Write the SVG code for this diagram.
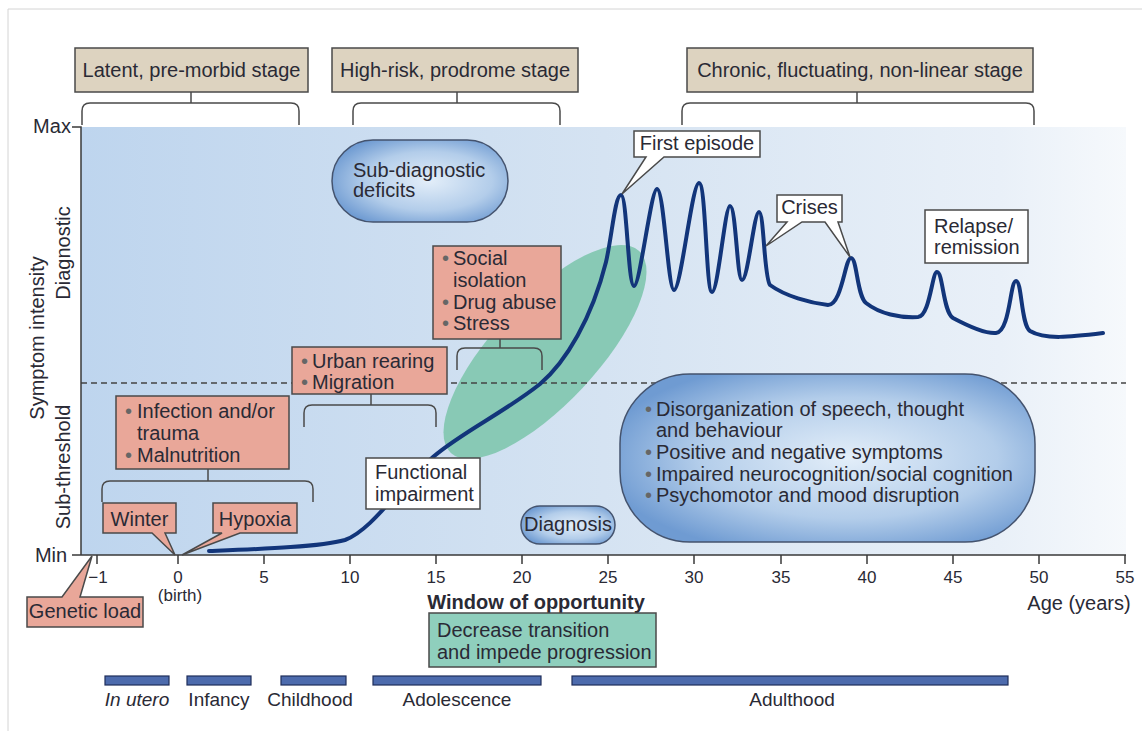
<svg xmlns="http://www.w3.org/2000/svg" width="1142" height="731" viewBox="0 0 1142 731">
<defs>
<linearGradient id="bg" x1="0" y1="0" x2="1" y2="0">
<stop offset="0" stop-color="#bed5ee"/>
<stop offset="0.5" stop-color="#d5e3f2"/>
<stop offset="0.88" stop-color="#e9f0f8"/>
<stop offset="1" stop-color="#f6f9fc"/>
</linearGradient>
<radialGradient id="pill" cx="55%" cy="50%" r="60%">
<stop offset="0" stop-color="#e3eef9"/>
<stop offset="0.6" stop-color="#b3cdea"/>
<stop offset="1" stop-color="#6f9bd2"/>
</radialGradient>
<style>
text{font-family:"Liberation Sans",Arial,sans-serif;fill:#2a2a35;font-size:20px}
.stage{fill:#ddd3c0;stroke:#4a4a4a;stroke-width:1.5}
.pink{fill:#e9a799;stroke:#4a4a4a;stroke-width:1.5}
.white{fill:#ffffff;stroke:#4a4a4a;stroke-width:1.5}
.teal{fill:#8fcfbd;stroke:#4a4a4a;stroke-width:1.5}
.pill{fill:url(#pill);stroke:#44536e;stroke-width:1.5}
.br{fill:none;stroke:#4a4a4a;stroke-width:1.5}
.axis{fill:none;stroke:#3a3a3a;stroke-width:1.5}
.bar{fill:#4d6bad;stroke:#1f2d5a;stroke-width:1.2}
.b{fill:#666}
.tick{font-size:17px;text-anchor:middle}
.lab{font-size:19px;text-anchor:middle}
.mid{text-anchor:middle}
</style>
</defs>
<line x1="8" y1="9" x2="1142" y2="9" stroke="#d4d4d4" stroke-width="1"/>
<line x1="8" y1="9" x2="8" y2="731" stroke="#d4d4d4" stroke-width="1"/>
<rect x="81" y="127" width="1045" height="428" fill="url(#bg)"/>
<ellipse cx="545" cy="352" rx="138" ry="52" transform="rotate(-47 545 352)" fill="#88c9b5"/>
<line x1="81" y1="383" x2="1126" y2="383" stroke="#444" stroke-width="1.5" stroke-dasharray="6,4"/>
<g id="axes">
<path class="axis" d="M72,127 H81 V555 H1126 M72,555 H81"/>
<path class="axis" d="M97,555 V564 M178,555 V564 M264,555 V564 M350,555 V564 M436,555 V564 M522,555 V564 M608,555 V564 M694,555 V564 M781,555 V564 M867,555 V564 M953,555 V564 M1039,555 V564 M1125,555 V564"/>
<text x="52" y="133" class="mid" font-size="16.5">Max</text>
<text x="51" y="562" class="mid" font-size="16.5">Min</text>
<text class="tick" x="98" y="583">−1</text>
<text class="tick" x="178" y="583">0</text>
<text class="tick" x="264" y="583">5</text>
<text class="tick" x="350" y="583">10</text>
<text class="tick" x="436" y="583">15</text>
<text class="tick" x="522" y="583">20</text>
<text class="tick" x="608" y="583">25</text>
<text class="tick" x="694" y="583">30</text>
<text class="tick" x="781" y="583">35</text>
<text class="tick" x="867" y="583">40</text>
<text class="tick" x="953" y="583">45</text>
<text class="tick" x="1039" y="583">50</text>
<text class="tick" x="1125" y="583">55</text>
<text class="tick" x="180" y="601">(birth)</text>
<text x="1079" y="610" class="mid" font-size="18">Age (years)</text>
<text x="536" y="609" class="mid" font-weight="bold" font-size="19.5">Window of opportunity</text>
<text transform="translate(44,338) rotate(-90)" class="mid" font-size="18">Symptom intensity</text>
<text transform="translate(70,253) rotate(-90)" class="mid" font-size="18">Diagnostic</text>
<text transform="translate(70,467) rotate(-90)" class="mid" font-size="18">Sub-threshold</text>
</g>
<g id="connectors">
<path class="br" d="M191,92 V103 M82,125 V111 Q82,103 90,103 H291 Q299,103 299,111 V125"/>
<path class="br" d="M457,92 V103 M353,125 V111 Q353,103 361,103 H552 Q560,103 560,111 V125"/>
<path class="br" d="M857,92 V103 M682,125 V111 Q682,103 690,103 H1026 Q1034,103 1034,111 V125"/>
<path class="br" d="M208,469 V481 M102,502 V489 Q102,481 110,481 H305 Q313,481 313,489 V502"/>
<path class="br" d="M371,394 V405 M304,427 V413 Q304,405 312,405 H428 Q436,405 436,413 V427"/>
<path class="br" d="M500,339 V348 M457,370 V356 Q457,348 465,348 H534 Q542,348 542,356 V370"/>
</g>
<g id="curve">
<path fill="none" stroke="#12357a" stroke-width="4" stroke-linecap="round" stroke-linejoin="round" d="M209,551 C260,549 320,547 345,540 C372,530 398,488 433,457 C462,432 505,412 540,384 C566,362 592,318 606,262 C612,236 615,195 621,195 C627,195 628,286 634,286 C640,286 651,189 657,189 C664,189 668,290 674,290 C681,290 692,183 699,183 C706,183 706,292 712,292 C718,292 725,206 730,206 C736,206 737,280 742,280 C748,280 754,212 759,212 C764,212 764,278 770,285 C785,296 810,303 828,305 C842,305 845,258 851,258 C857,258 857,296 866,303 C880,314 900,318 918,317 C930,316 932,272 937,272 C943,272 943,312 953,318 C968,326 985,334 996,333 C1010,332 1010,281 1016,281 C1022,281 1021,325 1030,331 C1045,340 1070,337 1103,333"/>
</g>
<g id="stage-latent">
<rect class="stage" x="75" y="48" width="233" height="44"/>
<text x="191.5" y="77" class="mid">Latent, pre-morbid stage</text>
</g>
<g id="stage-highrisk">
<rect class="stage" x="332" y="48" width="246" height="44"/>
<text x="455" y="77" class="mid">High-risk, prodrome stage</text>
</g>
<g id="stage-chronic">
<rect class="stage" x="687" y="48" width="346" height="44"/>
<text x="860" y="77" class="mid">Chronic, fluctuating, non-linear stage</text>
</g>
<g id="subdiagnostic">
<rect class="pill" x="332" y="140" width="176" height="82" rx="41"/>
<text x="353" y="177">Sub-diagnostic</text>
<text x="353" y="197">deficits</text>
</g>
<g id="first-episode">
<path class="white" d="M634,131 H760 V157 H664 L622,194 L646,157 H634 Z"/>
<text x="697" y="150" class="mid">First episode</text>
</g>
<g id="crises">
<path class="white" d="M777,195 H842 V222 H838 L850,257 L825,222 H802 L766,246 L787,222 H777 Z"/>
<text x="809.5" y="214" class="mid">Crises</text>
</g>
<g id="relapse">
<rect class="white" x="925" y="210" width="103" height="53"/>
<text x="934" y="233">Relapse/</text>
<text x="934" y="254">remission</text>
</g>
<g id="social">
<rect class="pink" x="433" y="246" width="128" height="93"/>
<text x="442" y="265" class="b">•</text><text x="453" y="265">Social</text>
<text x="453" y="287">isolation</text>
<text x="442" y="309" class="b">•</text><text x="453" y="309">Drug abuse</text>
<text x="442" y="330" class="b">•</text><text x="453" y="330">Stress</text>
</g>
<g id="urban">
<rect class="pink" x="292" y="347" width="155" height="47"/>
<text x="301" y="368" class="b">•</text><text x="312" y="368">Urban rearing</text>
<text x="301" y="389" class="b">•</text><text x="312" y="389">Migration</text>
</g>
<g id="infection">
<rect class="pink" x="116" y="396" width="173" height="73"/>
<text x="125" y="418" class="b">•</text><text x="137" y="418">Infection and/or</text>
<text x="137" y="440">trauma</text>
<text x="125" y="462" class="b">•</text><text x="137" y="462">Malnutrition</text>
</g>
<g id="winter">
<path class="pink" d="M103,503 H176 V533 H165 L175,555 L152,533 H103 Z"/>
<text x="139.5" y="526" class="mid">Winter</text>
</g>
<g id="hypoxia">
<path class="pink" d="M213,503 H297 V533 H240 L182,555 L222,533 H213 Z"/>
<text x="255" y="526" class="mid">Hypoxia</text>
</g>
<g id="functional">
<rect class="white" x="366" y="458" width="114" height="51"/>
<text x="375" y="479">Functional</text>
<text x="375" y="501">impairment</text>
</g>
<g id="diagnosis">
<rect class="pill" x="521" y="506" width="94" height="38" rx="19"/>
<text x="568" y="531" class="mid">Diagnosis</text>
</g>
<g id="symptoms">
<rect class="pill" x="620" y="374" width="415" height="168" rx="70"/>
<text x="645" y="416" class="b">•</text><text x="656" y="416">Disorganization of speech, thought</text>
<text x="656" y="437">and behaviour</text>
<text x="645" y="459" class="b">•</text><text x="656" y="459">Positive and negative symptoms</text>
<text x="645" y="481" class="b">•</text><text x="656" y="481">Impaired neurocognition/social cognition</text>
<text x="645" y="502" class="b">•</text><text x="656" y="502">Psychomotor and mood disruption</text>
</g>
<g id="genetic-load">
<path class="pink" d="M27,597 H62 L92,556 L80,597 H143 V627 H27 Z"/>
<text x="85" y="618" class="mid">Genetic load</text>
</g>
<g id="window-box">
<rect class="teal" x="429" y="613" width="227" height="54"/>
<text x="437" y="637">Decrease transition</text>
<text x="437" y="659">and impede progression</text>
</g>
<g id="life-stages">
<rect class="bar" x="105" y="676" width="64" height="9"/>
<rect class="bar" x="187" y="676" width="64" height="9"/>
<rect class="bar" x="281" y="676" width="65" height="9"/>
<rect class="bar" x="373" y="676" width="168" height="9"/>
<rect class="bar" x="572" y="676" width="436" height="9"/>
<text class="lab" x="137" y="706" font-style="italic">In utero</text>
<text class="lab" x="219" y="706">Infancy</text>
<text class="lab" x="310" y="706">Childhood</text>
<text class="lab" x="457" y="706">Adolescence</text>
<text class="lab" x="792" y="706">Adulthood</text>
</g>
</svg>
